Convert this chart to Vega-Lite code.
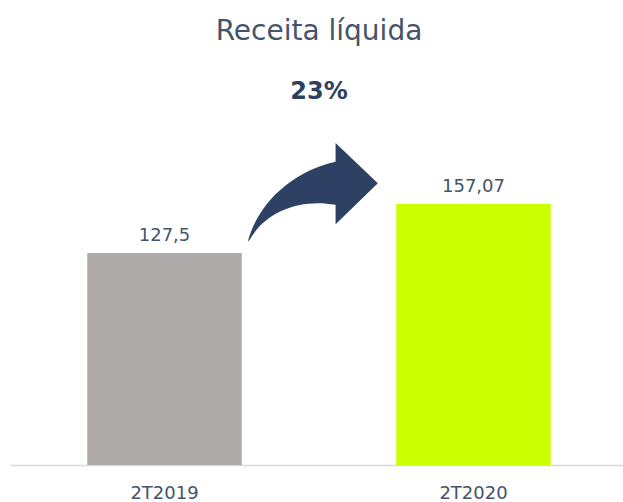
{
  "$schema": "https://vega.github.io/schema/vega-lite/v6.json",
  "autosize": "none",
  "width": 618,
  "height": 335,
  "padding": {"left": 10, "top": 130, "right": 0, "bottom": 37},
  "background": "white",
  "title": {
    "text": "Receita líquida",
    "subtitle": "23%",
    "font": "DejaVu Sans",
    "fontSize": 28,
    "fontWeight": "normal",
    "color": "#44546A",
    "subtitleFont": "DejaVu Sans",
    "subtitleFontSize": 24,
    "subtitleFontWeight": "bold",
    "subtitleColor": "#2F3F5F",
    "subtitlePadding": 34,
    "anchor": "middle",
    "offset": 26
  },
  "data": {
    "values": [
      {"periodo": "2T2019", "valor": 127.5},
      {"periodo": "2T2020", "valor": 157.07}
    ]
  },
  "encoding": {
    "x": {
      "field": "periodo",
      "type": "nominal",
      "scale": {"paddingInner": 0.5, "paddingOuter": 0.25},
      "axis": {
        "title": null,
        "labelAngle": 0,
        "ticks": false,
        "domainColor": "#D9D9D9",
        "domainWidth": 1.5,
        "labelFont": "DejaVu Sans",
        "labelFontSize": 18,
        "labelColor": "#44546A",
        "labelPadding": 19
      }
    }
  },
  "layer": [
    {
      "mark": {"type": "bar"},
      "encoding": {
        "y": {"field": "valor", "type": "quantitative", "scale": {"domain": [0, 201.4], "nice": false}, "axis": null},
        "color": {"field": "periodo", "type": "nominal", "scale": {"range": ["#AEAAAA", "#CCFF00"]}, "legend": null}
      }
    },
    {
      "mark": {"type": "text", "baseline": "bottom", "dy": -8, "font": "DejaVu Sans", "fontSize": 18, "color": "#44546A"},
      "encoding": {
        "y": {"field": "valor", "type": "quantitative"},
        "text": {"field": "valor", "type": "quantitative", "format": "~g"}
      }
    },
    {
      "transform": [{"filter": "datum.periodo == '2T2019'"}],
      "mark": {
        "type": "point",
        "filled": true,
        "shape": "M -1 0.75 C -0.85 0.18 -0.35 -0.32 0.35 -0.48 L 0.35 -0.77 L 1 -0.15 L 0.35 0.48 L 0.35 0.18 C -0.2 0.08 -0.74 0.29 -0.97 0.72 Z",
        "size": 16900,
        "color": "#2E4063",
        "opacity": 1,
        "strokeWidth": 0
      },
      "encoding": {
        "x": {"field": "periodo", "type": "nominal", "bandPosition": 1.46},
        "y": {"datum": 163.5, "type": "quantitative"}
      }
    }
  ],
  "config": {
    "view": {"stroke": null},
    "locale": {
      "number": {"decimal": ",", "thousands": ".", "grouping": [3], "currency": ["R$", ""]}
    }
  }
}
